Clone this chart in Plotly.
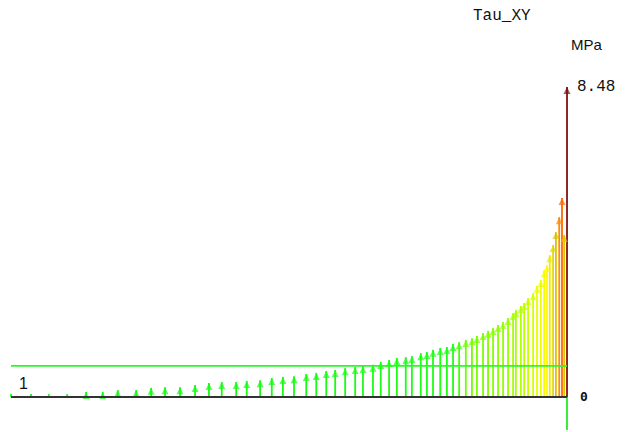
import plotly.graph_objects as go
from plotly.colors import sample_colorscale

# ---- text ----
title_text = "Tau_XY"
unit_text = "MPa"
start_node_label = "1"
end_node_label = "0"
max_label = "8.48"

# ---- data: distance along the path (% of length) and Tau_XY (MPa) ----
positions = [0, 3.6, 6.8, 10.1, 13.5, 16.5, 19.2, 22.5, 25.2, 27.7,
             30.4, 33.1, 35.6, 37.9, 40.5, 42.4, 44.8, 46.9, 48.9, 50.9,
             53.1, 54.9, 56.7, 58.3, 60.1, 61.9, 63.3, 65.1, 66.5, 68.0,
             69.4, 71.0, 72.1, 73.7, 74.8, 75.9, 77.2, 78.4, 79.5, 80.6,
             81.8, 82.9, 83.8, 84.9, 85.8, 86.7, 87.6, 88.5, 89.4, 90.3,
             90.8, 91.7, 92.3, 93.0, 93.9, 94.6, 95.3, 95.9, 96.4, 96.9,
             97.5, 98.0, 98.6, 99.1, 99.5, 100.0]
tau_xy = [0.08, 0.08, 0.08, 0.08, 0.14, 0.14, 0.19, 0.19, 0.25, 0.27,
          0.27, 0.33, 0.38, 0.41, 0.41, 0.44, 0.46, 0.52, 0.55, 0.57,
          0.63, 0.66, 0.71, 0.74, 0.79, 0.82, 0.85, 0.88, 0.96, 1.01,
          1.07, 1.09, 1.12, 1.20, 1.23, 1.29, 1.34, 1.37, 1.45, 1.50,
          1.56, 1.61, 1.67, 1.75, 1.81, 1.89, 1.97, 2.05, 2.16, 2.30,
          2.38, 2.49, 2.57, 2.71, 2.84, 3.04, 3.20, 3.47, 3.61, 3.88,
          4.16, 4.51, 4.92, 5.44, 4.43, 8.48]
reference_level = 0.85
tau_max = 8.48
end_tail = -0.9

# ---- colour map (fraction of max) ----
colorscale = [
    [0.0, "rgb(20,250,20)"],
    [0.171, "rgb(30,255,20)"],
    [0.183, "rgb(110,255,0)"],
    [0.283, "rgb(170,255,0)"],
    [0.354, "rgb(230,255,0)"],
    [0.425, "rgb(255,250,0)"],
    [0.495, "rgb(228,212,0)"],
    [0.542, "rgb(215,190,0)"],
    [0.578, "rgb(255,140,0)"],
    [0.649, "rgb(255,100,0)"],
    [1.0, "rgb(128,16,16)"],
]

colors = sample_colorscale(colorscale, [v / tau_max for v in tau_xy])

fig = go.Figure()

# stems
for d, v, c in zip(positions, tau_xy, colors):
    fig.add_trace(go.Scatter(x=[d, d], y=[0, v], mode="lines",
                             line=dict(color=c, width=1.8),
                             hoverinfo="skip", showlegend=False))

# reference level line
fig.add_trace(go.Scatter(x=[positions[0], positions[-1]], y=[reference_level] * 2,
                         mode="lines", line=dict(color="rgb(40,250,40)", width=1.8),
                         hoverinfo="skip", showlegend=False))

# arrow heads
fig.add_trace(go.Scatter(x=positions, y=tau_xy, mode="markers",
                         marker=dict(symbol="arrow-up",
                                     size=[0 if v < 0.1 else 7 for v in tau_xy],
                                     color=colors, line=dict(width=0)),
                         hoverinfo="skip", showlegend=False))

# tail below the end node
fig.add_trace(go.Scatter(x=[positions[-1]] * 2, y=[0, end_tail], mode="lines",
                         line=dict(color="rgb(30,240,30)", width=1.8),
                         hoverinfo="skip", showlegend=False))

# baseline
fig.add_trace(go.Scatter(x=[positions[0], positions[-1]], y=[0, 0], mode="lines",
                         line=dict(color="rgb(50,50,50)", width=2),
                         hoverinfo="skip", showlegend=False))

fig.add_annotation(x=positions[-1], y=tau_max, text=max_label, showarrow=False,
                   xanchor="left", xshift=8,
                   font=dict(family="Liberation Mono", size=16, color="#111"))
fig.add_annotation(x=positions[-1], y=0, text="<b>" + end_node_label + "</b>", showarrow=False,
                   xanchor="center", xshift=17, yshift=1,
                   font=dict(family="DejaVu Sans Mono", size=13, color="#111"))
fig.add_annotation(x=positions[0], y=0, text=start_node_label, showarrow=False,
                   xanchor="center", xshift=12, yshift=14,
                   font=dict(family="Liberation Sans", size=16, color="#111"))
fig.add_annotation(x=positions[-1], y=tau_max, text=unit_text, showarrow=False,
                   xanchor="center", xshift=20, yshift=42,
                   font=dict(family="Liberation Sans", size=15, color="#111"))
fig.add_annotation(xref="paper", yref="paper", x=502 / 629, y=1 - 16 / 432,
                   text=title_text, showarrow=False, xanchor="center", yanchor="middle",
                   font=dict(family="Liberation Mono", size=16, color="#111"))

fig.update_layout(
    width=629, height=432,
    margin=dict(l=0, r=0, t=0, b=0),
    paper_bgcolor="white", plot_bgcolor="white",
    showlegend=False,
    xaxis=dict(range=[-1.98, 111.15], visible=False, fixedrange=True),
    yaxis=dict(range=[-0.957, 10.859], visible=False, fixedrange=True),
)

fig.write_html("out.html")
